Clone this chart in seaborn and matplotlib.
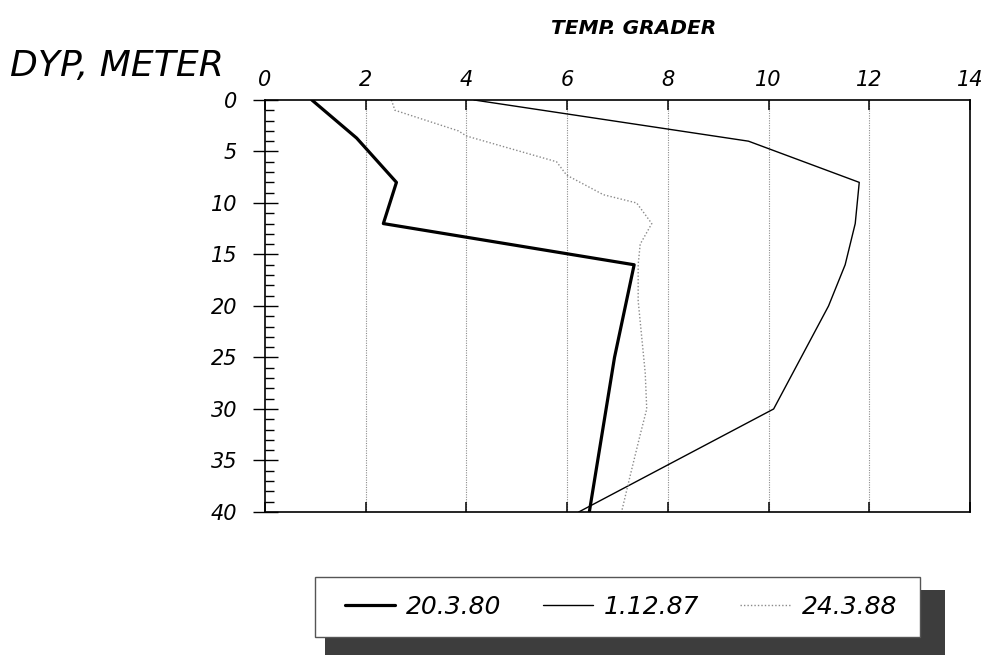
import numpy as np
import pandas as pd
import matplotlib
matplotlib.use("Agg")
import matplotlib.pyplot as plt
import seaborn as sns
from matplotlib.patches import Rectangle
from matplotlib.ticker import MultipleLocator

# ---- data ----
labels = ["20.3.80", "1.12.87", "24.3.88"]

depth_1 = [0, 3.7, 8, 12, 16, 25, 40]
temp_1 = [0.93, 1.82, 2.61, 2.35, 7.33, 6.94, 6.44]

depth_2 = [0, 4, 8, 12, 16, 20, 30, 40]
temp_2 = [4.15, 9.6, 11.8, 11.72, 11.52, 11.19, 10.1, 6.23]

depth_3 = [0, 1, 3, 3.5, 6, 7.3, 9.2, 10, 12, 14, 16, 19.5, 26.5, 30, 32.5, 36.5, 40]
temp_3 = [2.51, 2.58, 3.84, 4.0, 5.79, 5.99, 6.72, 7.38, 7.68, 7.45, 7.41, 7.41, 7.55, 7.58, 7.45, 7.25, 7.08]

x_ticks = [0, 2, 4, 6, 8, 10, 12, 14]
y_ticks = [0, 5, 10, 15, 20, 25, 30, 35, 40]

sns.set_theme(style="white")
plt.rcParams['font.family'] = ['DejaVu Sans']
plt.rcParams['text.color'] = 'black'
plt.rcParams['xtick.color'] = 'black'
plt.rcParams['ytick.color'] = 'black'
plt.rcParams['xtick.labelcolor'] = 'black'
plt.rcParams['ytick.labelcolor'] = 'black'

fig = plt.figure(figsize=(9.94, 6.59), dpi=100)
ax = fig.add_axes([0.2666, 0.2231, 0.7093, 0.6252])

styles = [
    dict(color="black", linewidth=2.3, linestyle="-"),
    dict(color="black", linewidth=1.0, linestyle="-"),
    dict(color="#8a8a8a", linewidth=1.0, linestyle=(0, (1, 1.5))),
]
series = [(temp_1, depth_1), (temp_2, depth_2), (temp_3, depth_3)]
for lab, (t, d), st in zip(labels, series, styles):
    df = pd.DataFrame({"temp": t, "depth": d})
    sns.lineplot(data=df, x="temp", y="depth", sort=False, estimator=None,
                 ax=ax, label=lab, **st)

ax.set_xlim(0, 14)
ax.set_ylim(40, 0)
ax.set_xticks(x_ticks)
ax.set_yticks(y_ticks)
ax.yaxis.set_minor_locator(MultipleLocator(1))
ax.set_xlabel("")
ax.set_ylabel("")

# grid: vertical dotted lines
ax.grid(False)
for xv in x_ticks[1:-1]:
    ax.axvline(xv, color="#8c8c8c", linewidth=0.8, linestyle=(0, (1, 1.2)), zorder=0)

for s in ax.spines.values():
    s.set_visible(True)
    s.set_color("black")
    s.set_linewidth(1.2)

ax.tick_params(axis="x", which="major", top=True, bottom=True, labeltop=True,
               labelbottom=False, direction="in", length=7, width=1.1,
               pad=7, labelsize=15)
ax.tick_params(axis="y", which="major", left=True, right=False, direction="inout",
               length=18, width=1.0, pad=11, labelsize=15)
ax.tick_params(axis="y", which="minor", left=True, right=False, direction="in",
               length=6.5, width=1.0)
for lbl in ax.get_xticklabels() + ax.get_yticklabels():
    lbl.set_fontstyle("italic")

fig.text(634 / 994, 1 - 28 / 659, "TEMP. GRADER", ha="center", va="center",
         fontsize=14.5, fontstyle="italic", fontweight="bold")
fig.text(10 / 994, 1 - 66 / 659, "DYP, METER", ha="left", va="center",
         fontsize=26, fontstyle="italic")

# legend: frame with drop shadow
handles, labs = ax.get_legend_handles_labels()
ax.get_legend().remove()
H = 659.0
W = 994.0
shadow = Rectangle((325 / W, 1 - 655 / H), 620 / W, 65 / H,
                   transform=fig.transFigure, facecolor="#3d3d3d",
                   edgecolor="none", zorder=0)
frame = Rectangle((315 / W, 1 - 637 / H), 605 / W, 60 / H,
                  transform=fig.transFigure, facecolor="white",
                  edgecolor="#555555", linewidth=1.0, zorder=1)
fig.patches.extend([shadow, frame])
leg = fig.legend(handles, labs, loc="center", ncol=3,
                 bbox_to_anchor=(345 / W, 1 - 637 / H, 552 / W, 60 / H),
                 mode="expand", frameon=False,
                 prop={"size": 18, "style": "italic"},
                 handlelength=2.0, handletextpad=0.45, borderpad=0,
                 borderaxespad=0)
leg.set_zorder(5)

fig.savefig("out.png", dpi=100)
